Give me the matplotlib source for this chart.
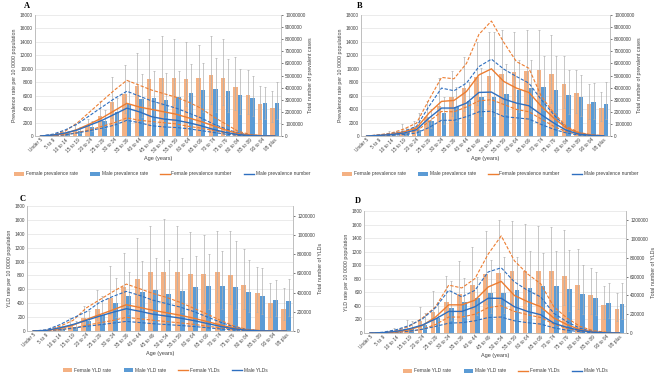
import matplotlib
matplotlib.use("Agg")
import matplotlib.pyplot as plt
from matplotlib.lines import Line2D
from matplotlib.patches import Patch
import numpy as np

plt.rcParams['font.family'] = ['Liberation Sans', 'DejaVu Sans']

age_groups = ["Under 5", "5 to 9", "10 to 14", "15 to 19", "20 to 24", "25 to 29", "30 to 34",
              "35 to 39", "40 to 44", "45 to 49", "50 to 54", "55 to 59", "60 to 64", "65 to 69",
              "70 to 74", "75 to 79", "80 to 84", "85 to 89", "90 to 94", "95 plus"]

# ---------------- Panel A: prevalence (first dataset) ----------------
a_f_rate = [5, 60, 300, 900, 1500, 3000, 5000, 6300, 7400, 8500, 8600, 8600, 8500, 8600, 9050, 8600, 7340, 6100, 4760, 4100]
a_f_rate_hi = [10, 120, 600, 1600, 2600, 5200, 8800, 10500, 12400, 14500, 14900, 14500, 14000, 13600, 14900, 14400, 11700, 9800, 7450, 6750]
a_f_rate_lo = [2, 30, 150, 450, 800, 1600, 2700, 3400, 4000, 4600, 4600, 4600, 4500, 4600, 4800, 4600, 3900, 3200, 2500, 2100]
a_m_rate = [5, 100, 400, 800, 1300, 2300, 3500, 4800, 5500, 5700, 5350, 5750, 6350, 6800, 6950, 6700, 6100, 5700, 4960, 4860]
a_m_rate_hi = [10, 200, 700, 1400, 2300, 3800, 5600, 8200, 9200, 9700, 9330, 9700, 10700, 10900, 11550, 11450, 9900, 8900, 7350, 8050]
a_m_rate_lo = [2, 50, 200, 400, 700, 1200, 1800, 2500, 2900, 3000, 2800, 3100, 3300, 3500, 3600, 3500, 3200, 3000, 2600, 2600]
a_f_num = [0, 50e3, 200e3, 550e3, 1.0e6, 1.5e6, 2.1e6, 2.7e6, 2.4e6, 2.2e6, 2.0e6, 1.8e6, 1.5e6, 1.2e6, 0.85e6, 0.5e6, 0.2e6, 70e3, 20e3, 5e3]
a_f_num_hi = [0, 100e3, 400e3, 1.1e6, 2.0e6, 2.9e6, 3.8e6, 4.6e6, 4.2e6, 3.8e6, 3.5e6, 3.2e6, 2.8e6, 2.3e6, 1.6e6, 1.0e6, 0.4e6, 120e3, 30e3, 10e3]
a_f_num_lo = [0, 20e3, 100e3, 300e3, 500e3, 800e3, 1.1e6, 1.5e6, 1.3e6, 1.2e6, 1.1e6, 1.0e6, 0.8e6, 0.65e6, 0.45e6, 0.25e6, 0.1e6, 40e3, 10e3, 2e3]
a_m_num = [0, 80e3, 250e3, 500e3, 900e3, 1.3e6, 1.8e6, 2.3e6, 2.0e6, 1.6e6, 1.4e6, 1.3e6, 1.1e6, 0.85e6, 0.55e6, 0.3e6, 0.12e6, 40e3, 10e3, 3e3]
a_m_num_hi = [0, 150e3, 500e3, 1.0e6, 1.7e6, 2.4e6, 3.1e6, 3.7e6, 3.3e6, 2.9e6, 2.6e6, 2.3e6, 1.9e6, 1.5e6, 1.0e6, 0.6e6, 0.25e6, 80e3, 20e3, 5e3]
a_m_num_lo = [0, 30e3, 100e3, 250e3, 450e3, 650e3, 900e3, 1.3e6, 1.1e6, 0.85e6, 0.75e6, 0.7e6, 0.6e6, 0.45e6, 0.3e6, 0.15e6, 60e3, 20e3, 5e3, 1e3]

# ---------------- Panel B: prevalence (second dataset) ----------------
b_f_rate = [5, 100, 300, 500, 1400, 2900, 4400, 5750, 7150, 8780, 8950, 9280, 9480, 9680, 9780, 9280, 7790, 6400, 4760, 4170]
b_f_rate_hi = [10, 200, 700, 1750, 2300, 5150, 8600, 9600, 11800, 14000, 15400, 15700, 15460, 15800, 15700, 15040, 11900, 9870, 7790, 6550]
b_f_rate_lo = [2, 50, 150, 300, 700, 1500, 2300, 3000, 3700, 4600, 4700, 4900, 5000, 5100, 5100, 4900, 4100, 3400, 2500, 2200]
b_m_rate = [5, 100, 300, 400, 900, 2300, 3400, 4300, 5150, 5800, 5780, 6300, 6800, 7150, 7250, 6900, 6150, 5760, 5010, 4810]
b_m_rate_hi = [10, 200, 600, 1200, 3400, 4000, 5850, 7250, 8100, 10100, 15400, 10760, 11360, 11360, 11950, 11950, 9870, 9070, 7890, 7990]
b_m_rate_lo = [2, 50, 150, 200, 450, 1200, 1800, 2300, 2700, 3000, 3000, 3300, 3600, 3700, 3800, 3600, 3200, 3000, 2600, 2500]
b_f_num = [0, 50e3, 150e3, 350e3, 660e3, 1.9e6, 2.86e6, 2.94e6, 3.68e6, 5.05e6, 5.55e6, 4.5e6, 3.96e6, 3.6e6, 2.45e6, 1.48e6, 0.66e6, 0.25e6, 70e3, 10e3]
b_f_num_hi = [0, 100e3, 250e3, 580e3, 1.07e6, 3.0e6, 4.84e6, 4.73e6, 6.0e6, 8.4e6, 9.5e6, 7.72e6, 6.15e6, 5.6e6, 3.27e6, 1.9e6, 0.8e6, 0.3e6, 0.1e6, 20e3]
b_f_num_lo = [0, 20e3, 80e3, 200e3, 400e3, 1.2e6, 2.03e6, 2.0e6, 2.4e6, 2.9e6, 3.0e6, 2.6e6, 2.2e6, 2.0e6, 1.4e6, 0.8e6, 0.35e6, 0.13e6, 40e3, 5e3]
b_m_num = [0, 50e3, 120e3, 250e3, 520e3, 1.48e6, 2.31e6, 2.31e6, 2.72e6, 3.6e6, 3.63e6, 3.05e6, 2.72e6, 2.5e6, 1.76e6, 1.07e6, 0.47e6, 0.16e6, 50e3, 20e3]
b_m_num_hi = [0, 80e3, 200e3, 400e3, 800e3, 2.45e6, 3.96e6, 3.74e6, 4.37e6, 5.74e6, 6.35e6, 5.52e6, 4.92e6, 4.37e6, 3.0e6, 1.76e6, 0.66e6, 0.25e6, 70e3, 20e3]
b_m_num_lo = [0, 20e3, 60e3, 120e3, 250e3, 700e3, 1.3e6, 1.3e6, 1.6e6, 2.0e6, 2.05e6, 1.6e6, 1.5e6, 1.4e6, 0.95e6, 0.55e6, 0.25e6, 80e3, 20e3, 5e3]

# ---------------- Panel C: YLDs (first dataset) ----------------
c_f_rate = [2, 5, 25, 67, 187, 321, 475, 628, 748, 854, 854, 845, 820, 820, 850, 800, 657, 547, 403, 321]
c_f_rate_hi = [4, 15, 60, 187, 365, 595, 940, 1122, 1338, 1506, 1612, 1516, 1425, 1386, 1444, 1444, 1180, 916, 690, 619]
c_f_rate_lo = [1, 2, 12, 33, 90, 160, 240, 310, 370, 420, 420, 420, 400, 400, 420, 390, 320, 270, 200, 160]
c_m_rate = [2, 5, 30, 58, 139, 235, 403, 508, 556, 585, 537, 571, 628, 643, 643, 633, 561, 508, 441, 427]
c_m_rate_hi = [4, 15, 70, 150, 290, 499, 763, 844, 1002, 1050, 1026, 1050, 1074, 1113, 1146, 1290, 1026, 906, 738, 748]
c_m_rate_lo = [1, 2, 14, 28, 70, 115, 200, 250, 275, 290, 265, 280, 310, 320, 320, 310, 280, 250, 220, 210]
c_f_num = [0, 4e3, 25e3, 60e3, 120e3, 170e3, 220e3, 273e3, 245e3, 215e3, 190e3, 165e3, 135e3, 100e3, 65e3, 32e3, 10e3, 3e3, 1e3, 0]
c_f_num_hi = [0, 8e3, 48e3, 110e3, 240e3, 325e3, 410e3, 488e3, 440e3, 390e3, 350e3, 300e3, 240e3, 180e3, 115e3, 55e3, 18e3, 5e3, 1e3, 0]
c_f_num_lo = [0, 2e3, 12e3, 30e3, 60e3, 85e3, 110e3, 142e3, 127e3, 112e3, 98e3, 85e3, 70e3, 52e3, 33e3, 16e3, 5e3, 1.5e3, 500, 0]
c_m_num = [0, 6e3, 33e3, 68e3, 110e3, 155e3, 195e3, 232e3, 205e3, 175e3, 155e3, 135e3, 110e3, 80e3, 50e3, 24e3, 8e3, 2e3, 500, 0]
c_m_num_hi = [0, 12e3, 65e3, 135e3, 200e3, 298e3, 360e3, 412e3, 370e3, 320e3, 285e3, 250e3, 205e3, 150e3, 95e3, 45e3, 15e3, 4e3, 1e3, 0]
c_m_num_lo = [0, 3e3, 15e3, 30e3, 48e3, 65e3, 82e3, 100e3, 88e3, 76e3, 67e3, 58e3, 48e3, 35e3, 22e3, 11e3, 4e3, 1e3, 300, 0]

# ---------------- Panel D: YLDs (second dataset) ----------------
d_f_rate = [2, 5, 30, 48, 179, 315, 460, 581, 712, 872, 890, 920, 920, 920, 920, 847, 702, 566, 412, 349]
d_f_rate_hi = [4, 15, 80, 194, 387, 615, 847, 1056, 1274, 1511, 1671, 1646, 1608, 1574, 1559, 1525, 1235, 959, 688, 591]
d_f_rate_lo = [1, 2, 14, 24, 90, 160, 230, 290, 350, 430, 440, 450, 450, 450, 450, 420, 350, 280, 200, 170]
d_m_rate = [2, 5, 25, 58, 121, 218, 373, 460, 523, 591, 591, 639, 668, 688, 688, 649, 571, 518, 446, 426]
d_m_rate_hi = [4, 15, 60, 170, 290, 460, 765, 814, 833, 1075, 1114, 1114, 1210, 1186, 1210, 1220, 1007, 896, 736, 736]
d_m_rate_lo = [1, 2, 12, 28, 60, 110, 190, 230, 260, 300, 300, 320, 330, 340, 340, 320, 280, 260, 220, 210]
d_f_num = [0, 2e3, 12e3, 35e3, 80e3, 170e3, 300e3, 300e3, 350e3, 490e3, 550e3, 400e3, 335e3, 280e3, 160e3, 90e3, 35e3, 12e3, 4e3, 1e3]
d_f_num_hi = [0, 5e3, 25e3, 70e3, 160e3, 280e3, 510e3, 480e3, 580e3, 840e3, 1035e3, 770e3, 630e3, 525e3, 280e3, 160e3, 70e3, 25e3, 8e3, 2e3]
d_f_num_lo = [0, 1e3, 5e3, 15e3, 40e3, 90e3, 170e3, 170e3, 200e3, 270e3, 290e3, 230e3, 195e3, 165e3, 95e3, 50e3, 20e3, 6e3, 2e3, 500]
d_m_num = [0, 4e3, 18e3, 45e3, 85e3, 150e3, 230e3, 230e3, 280e3, 370e3, 370e3, 280e3, 230e3, 195e3, 105e3, 60e3, 28e3, 8e3, 2e3, 500]
d_m_num_hi = [0, 8e3, 35e3, 80e3, 150e3, 270e3, 455e3, 385e3, 455e3, 650e3, 695e3, 545e3, 455e3, 385e3, 210e3, 120e3, 50e3, 15e3, 4e3, 1e3]
d_m_num_lo = [0, 2e3, 8e3, 20e3, 40e3, 70e3, 105e3, 110e3, 130e3, 165e3, 170e3, 130e3, 110e3, 95e3, 55e3, 30e3, 13e3, 4e3, 1e3, 200]

F_BAR = '#F4B183'
M_BAR = '#5B9BD5'
F_LINE = '#ED7D31'
M_LINE = '#2E6FC0'
ERR = '#B0B0B0'
GRID = '#E3E3E3'
AXC = '#BFBFBF'
TXT = '#404040'

fig = plt.figure(figsize=(6.66, 3.77), dpi=100)
W, H = 666.0, 377.0

def rect(l, r, t, b):
    return [l / W, 1 - b / H, (r - l) / W, (b - t) / H]

def panel(pos, letter, letter_xy, fr, frh, frl, mr, mrh, mrl, fn, fnh, fnl, mn, mnh, mnl,
          lmax, lstep, rmax, rticks, ylab_l, ylab_r, leg_labels, leg_xy, xlab):
    ax = fig.add_axes(pos)
    x = np.arange(len(age_groups))
    w = 0.36
    fr = np.array(fr); mr = np.array(mr)
    ax.bar(x - 0.19, fr, w, color=F_BAR, zorder=2)
    ax.bar(x + 0.19, mr, w, color=M_BAR, zorder=2)
    ax.errorbar(x - 0.19, fr, yerr=[fr - np.array(frl), np.array(frh) - fr], fmt='none',
                ecolor=ERR, elinewidth=0.5, capsize=1.0, capthick=0.5, zorder=3)
    ax.errorbar(x + 0.19, mr, yerr=[mr - np.array(mrl), np.array(mrh) - mr], fmt='none',
                ecolor=ERR, elinewidth=0.5, capsize=1.0, capthick=0.5, zorder=3)
    ax.set_ylim(0, lmax)
    ax.set_yticks(np.arange(0, lmax + 1, lstep))
    ax.set_xlim(-0.45, len(age_groups) - 0.5)
    ax.set_xticks(x)
    ax.set_xticklabels(age_groups, rotation=45, ha='right', rotation_mode='anchor')
    ax.yaxis.grid(True, color=GRID, lw=0.5, zorder=0)
    ax.set_axisbelow(True)
    ax.tick_params(axis='both', labelsize=3.4, colors=TXT, length=0, pad=1.5)
    ax.tick_params(axis='x', pad=1.0)
    for s in ['top']:
        ax.spines[s].set_visible(False)
    for s in ['left', 'right', 'bottom']:
        ax.spines[s].set_color(AXC)
        ax.spines[s].set_linewidth(0.6)
    ax.set_ylabel(ylab_l, fontsize=3.8, color=TXT, labelpad=2)
    ax.set_xlabel(xlab, fontsize=4.0, color=TXT, labelpad=2)

    ax2 = ax.twinx()
    ax2.plot(x, fnh, color=F_LINE, lw=0.8, ls=(0, (3, 1.5)))
    ax2.plot(x, fnl, color=F_LINE, lw=0.8, ls=(0, (3, 1.5)))
    ax2.plot(x, mnh, color=M_LINE, lw=0.8, ls=(0, (3, 1.5)))
    ax2.plot(x, mnl, color=M_LINE, lw=0.8, ls=(0, (3, 1.5)))
    ax2.plot(x, fn, color=F_LINE, lw=1.0)
    ax2.plot(x, mn, color=M_LINE, lw=1.0)
    ax2.set_ylim(0, rmax)
    ax2.set_yticks(rticks)
    ax2.set_yticklabels([str(int(v)) for v in rticks])
    ax2.tick_params(axis='y', labelsize=3.4, colors=TXT, length=1.5, width=0.5, pad=1.5)
    for s in ['top']:
        ax2.spines[s].set_visible(False)
    for s in ['left', 'right', 'bottom']:
        ax2.spines[s].set_color(AXC)
        ax2.spines[s].set_linewidth(0.6)
    ax2.set_ylabel(ylab_r, fontsize=3.8, color=TXT, labelpad=2)

    fig.text(letter_xy[0] / W, 1 - letter_xy[1] / H, letter, fontsize=6, fontweight='bold',
             family='Liberation Serif', ha='left', va='center')

    handles = [Patch(facecolor=F_BAR, edgecolor='none'), Patch(facecolor=M_BAR, edgecolor='none'),
               Line2D([], [], color=F_LINE, lw=1.0), Line2D([], [], color=M_LINE, lw=1.0)]
    fig.legend(handles, leg_labels, loc='center', ncol=4, frameon=False,
               bbox_to_anchor=(leg_xy[0] / W, 1 - leg_xy[1] / H), fontsize=3.5,
               handlelength=2.0, handleheight=0.7, columnspacing=2.5, handletextpad=0.4,
               labelcolor=TXT)
    return ax, ax2

prev_labels = ["Female prevalence rate", "Male prevalence rate", "Female prevalence number", "Male prevalence number"]
yld_labels = ["Female YLD rate", "Male YLD rate", "Female YLDs", "Male YLDs"]
prev_rticks = np.arange(0, 10000001, 1000000)
yld_rticks = np.arange(0, 1200001, 200000)

panel(rect(35, 281, 15, 136), 'A', (24, 6),
      a_f_rate, a_f_rate_hi, a_f_rate_lo, a_m_rate, a_m_rate_hi, a_m_rate_lo,
      a_f_num, a_f_num_hi, a_f_num_lo, a_m_num, a_m_num_hi, a_m_num_lo,
      18000, 2000, 10000000, prev_rticks,
      "Prevalence rate per 10 0000 population", "Total number of prevalent cases",
      prev_labels, (162, 174), "Age (years)")

panel(rect(361, 610, 15, 136), 'B', (357, 6),
      b_f_rate, b_f_rate_hi, b_f_rate_lo, b_m_rate, b_m_rate_hi, b_m_rate_lo,
      b_f_num, b_f_num_hi, b_f_num_lo, b_m_num, b_m_num_hi, b_m_num_lo,
      18000, 2000, 10000000, prev_rticks,
      "Prevalence rate per 10 0000 population", "Total number of prevalent cases",
      prev_labels, (490, 174), "Age (years)")

panel(rect(27, 293, 206, 331), 'C', (20, 199),
      c_f_rate, c_f_rate_hi, c_f_rate_lo, c_m_rate, c_m_rate_hi, c_m_rate_lo,
      c_f_num, c_f_num_hi, c_f_num_lo, c_m_num, c_m_num_hi, c_m_num_lo,
      1800, 200, 1300000, yld_rticks,
      "YLD rate per 10 0000 population", "Total number of YLDs",
      yld_labels, (165, 370), "Age (years)")

panel(rect(364, 626, 211, 333), 'D', (355, 201),
      d_f_rate, d_f_rate_hi, d_f_rate_lo, d_m_rate, d_m_rate_hi, d_m_rate_lo,
      d_f_num, d_f_num_hi, d_f_num_lo, d_m_num, d_m_num_hi, d_m_num_lo,
      1800, 200, 1300000, yld_rticks,
      "YLD rate per 10 0000 population", "Total number of YLDs",
      yld_labels, (505, 371), "Age (years)")

fig.savefig("out.png", dpi=100)
